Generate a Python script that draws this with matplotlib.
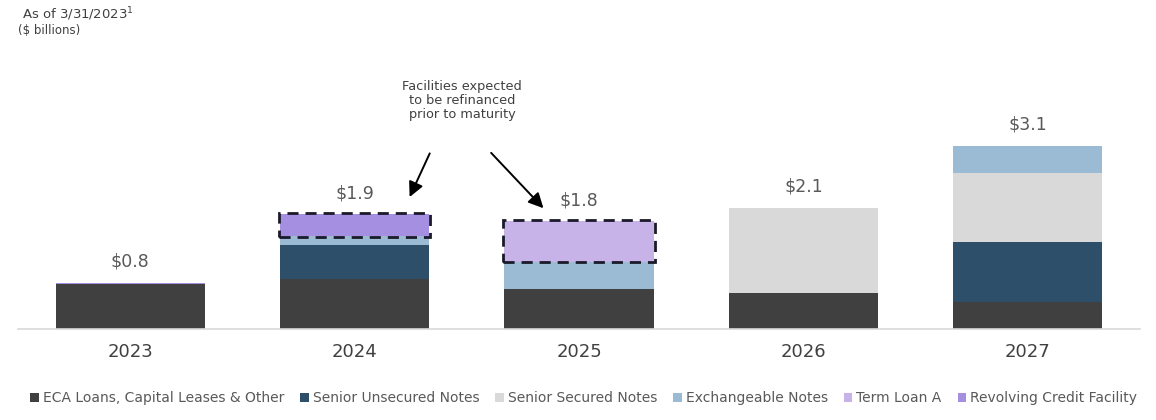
import matplotlib
matplotlib.use("Agg")
import matplotlib.pyplot as plt
from matplotlib.patches import Rectangle, Patch
import numpy as np

years = ["2023", "2024", "2025", "2026", "2027"]
series_names = ["ECA Loans, Capital Leases & Other", "Senior Unsecured Notes",
                "Senior Secured Notes", "Exchangeable Notes", "Term Loan A",
                "Revolving Credit Facility"]
eca = [0.76, 0.84, 0.67, 0.60, 0.45]
unsecured = [0.0, 0.57, 0.0, 0.0, 1.01]
secured = [0.0, 0.0, 0.0, 1.44, 1.16]
exchangeable = [0.0, 0.15, 0.46, 0.0, 0.47]
term_loan_a = [0.0, 0.0, 0.69, 0.0, 0.0]
revolving = [0.02, 0.37, 0.0, 0.0, 0.0]
totals_labels = ["$0.8", "$1.9", "$1.8", "$2.1", "$3.1"]
refinanced = [(1, "Revolving Credit Facility"), (2, "Term Loan A")]

colors = ["#404040", "#2e4f69", "#d9d9d9", "#9bbad3", "#c8b3e8", "#a48fe0"]
data = [eca, unsecured, secured, exchangeable, term_loan_a, revolving]

plt.rcParams['font.family'] = ['DejaVu Sans']
fig = plt.figure(figsize=(11.56, 4.2), dpi=100)
ax = fig.add_axes([18/1156, 91/420, 1122/1156, 269/420])

x = np.arange(len(years))
bw = 0.665
bottom = np.zeros(len(years))
seg = {}
for name, vals, c in zip(series_names, data, colors):
    vals = np.array(vals)
    ax.bar(x, vals, bw, bottom=bottom, color=c, edgecolor='none', zorder=2)
    seg[name] = (bottom.copy(), vals.copy())
    bottom = bottom + vals

ax.set_xlim(-0.5, len(years) - 0.5)
ax.set_ylim(0, 4.53)

for i, (tot, lab) in enumerate(zip(bottom, totals_labels)):
    ax.text(x[i], tot + 0.2, lab, ha='center', va='bottom', fontsize=12.5, color='#595959')

for i, name in refinanced:
    b, v = seg[name]
    ax.add_patch(Rectangle((x[i] - bw/2 - 0.005, b[i] - 0.01), bw + 0.01, v[i] + 0.03,
                           fill=False, edgecolor='#1a1a2a', linestyle=(0, (4, 2.5)),
                           linewidth=2, zorder=3, clip_on=False))

# annotation
ax.text(1.48, 3.85, "Facilities expected\nto be refinanced\nprior to maturity",
        ha='center', va='center', fontsize=9.3, color='#404040', linespacing=1.1)
ax.annotate("", xy=(1.24, 2.18), xytext=(1.34, 3.0),
            arrowprops=dict(arrowstyle='-|>,head_length=0.9,head_width=0.45',
                            color='black', lw=1.4))
ax.annotate("", xy=(1.85, 2.0), xytext=(1.6, 3.0),
            arrowprops=dict(arrowstyle='-|>,head_length=0.9,head_width=0.45',
                            color='black', lw=1.4))

for s in ['top', 'right', 'left']:
    ax.spines[s].set_visible(False)
ax.spines['bottom'].set_color('#d9d9d9')
ax.spines['bottom'].set_linewidth(1.2)
ax.set_yticks([])
ax.set_xticks(x)
ax.set_xticklabels(years, fontsize=13, color='#404040')
ax.tick_params(axis='x', length=0, pad=10)

handles = [Patch(facecolor=c, edgecolor='none') for c in colors]
fig.legend(handles, series_names, loc='center', bbox_to_anchor=(0.505, 22/420),
           ncol=6, frameon=False, fontsize=10, labelcolor='#595959',
           handlelength=0.6, handleheight=0.6, handletextpad=0.3, columnspacing=1.15)

fig.text(22/1156, 1 - 14/420, "As of 3/31/2023$^{1}$", fontsize=9.5, color='#404040', va='center')
fig.text(18/1156, 1 - 31/420, "($ billions)", fontsize=8.5, color='#404040', va='center')

fig.savefig("out.png", dpi=100)
